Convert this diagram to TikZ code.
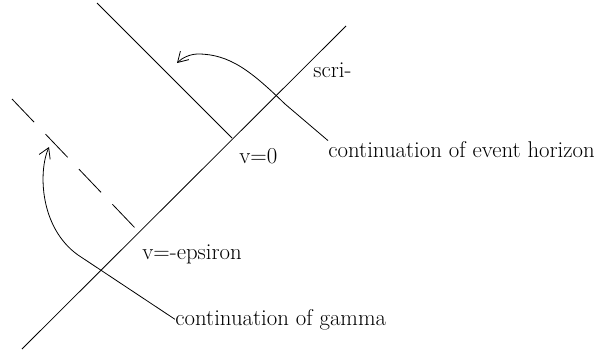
\documentclass[tikz,border=0pt]{standalone}
\usetikzlibrary{arrows.meta}

\begin{document}
\begin{tikzpicture}[x=1pt,y=-1pt,line width=0.8pt,
  every node/.style={font=\fontsize{22.8}{27}\selectfont,inner sep=0pt,anchor=base west},
  pointer/.style={-{Straight Barb[length=10pt,width=12pt]}}]
  \useasboundingbox (0,0) rectangle (596,359);

  % Null lines
  \coordinate (s1) at (22,349);
  \coordinate (s2) at (346,26);
  \coordinate (h1) at (97,3);
  \coordinate (h2) at (232,138);
  \coordinate (g1) at (12,99);
  \coordinate (g2) at (136,229);

  \draw (s1)--(s2);
  \draw (h1)--(h2);
  \draw[dash pattern=on 32pt off 16.5pt] (g1)--(g2);

  % Labels
  \node (scri) at (313,77) {scri-};
  \node (v0) at (239,163) {v=0};
  \node (veps) at (142,259) {v=-epsiron};
  \node (eh) at (328,157) {continuation of event horizon};
  \node (gam) at (175,325) {continuation of gamma};

  % Pointers
  \coordinate (ehtip) at (177,63);
  \coordinate (gtip) at (49,147);
  \draw[pointer] (eh.north west) -- (285,104)
    .. controls (252,72) and (230,54) .. (198,54)
    .. controls (190,54) and (182,58) .. (ehtip);
  \draw[pointer] (gam.west) -- (78,255)
    .. controls (40,228) and (38,172) .. (gtip);
\end{tikzpicture}
\end{document}
